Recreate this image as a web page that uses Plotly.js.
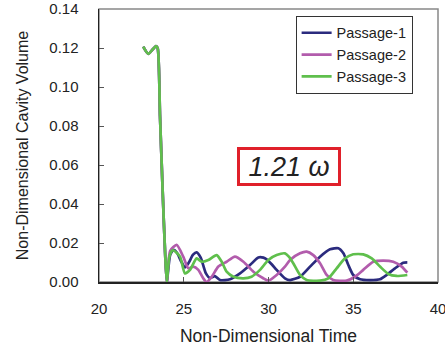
<!DOCTYPE html>
<html><head><meta charset="utf-8">
<script src="https://cdn.plot.ly/plotly-3.0.1.min.js"></script>
<style>html,body{margin:0;padding:0;background:#fff}#c{width:445px;height:349px}</style>
</head><body><div id="c"></div>
<script>
const p1T = [22.61,22.91,23.36,23.46,23.6,23.75,23.9,24.0,24.2,24.4,24.6,24.85,25.07,25.3,25.55,25.76,26.0,26.31,26.55,26.84,27.14,27.73,28.32,28.91,29.40,29.7,29.89,30.2,30.48,30.97,31.27,31.86,32.45,33.04,33.63,34.12,34.42,34.71,35.0,35.4,35.99,36.58,36.97,37.46,37.95,38.19];
const p1V = [0.1207,0.117,0.121,0.120,0.085,0.048,0.015,0.0,0.014,0.0165,0.015,0.0105,0.0075,0.010,0.014,0.0152,0.0125,0.0044,0.002,0.003,0.001,0.0014,0.0044,0.0087,0.0126,0.0125,0.0116,0.009,0.0062,0.0019,0.001,0.0027,0.0079,0.013,0.0168,0.0173,0.0147,0.0087,0.0036,0.0014,0.001,0.0014,0.0036,0.007,0.0099,0.0101];
const p2T = [22.61,22.91,23.36,23.46,23.6,23.75,23.9,24.0,24.2,24.58,24.97,25.27,25.56,25.86,26.15,26.35,26.65,27.04,27.53,28.02,28.52,29.11,29.69,29.99,30.48,30.97,31.27,31.86,32.25,32.64,33.04,33.43,33.82,34.61,35.10,35.59,36.18,36.77,37.36,37.86,38.19];
const p2V = [0.1207,0.117,0.121,0.120,0.085,0.048,0.015,0.0,0.016,0.019,0.013,0.007,0.0079,0.0062,0.0019,0.0,0.0027,0.0079,0.0104,0.013,0.0104,0.0053,0.0019,0.0007,0.0036,0.0079,0.0113,0.0147,0.0156,0.0138,0.0096,0.0036,0.001,0.0007,0.0027,0.0062,0.0104,0.011,0.0104,0.0079,0.0048];
const p3T = [22.61,22.91,23.36,23.46,23.6,23.75,23.9,24.0,24.15,24.35,24.78,25.07,25.37,25.76,26.06,26.45,26.94,27.24,27.53,27.93,28.52,29.0,29.50,29.99,30.48,30.97,31.2,31.46,31.86,32.25,33.04,33.53,34.02,34.51,35.0,35.59,36.09,36.58,37.07,37.56,38.19];
const p3V = [0.1207,0.117,0.121,0.120,0.085,0.048,0.015,0.0,0.013,0.0164,0.013,0.0044,0.0062,0.0121,0.0104,0.0113,0.0138,0.0104,0.0053,0.0027,0.0019,0.0027,0.0062,0.0113,0.0138,0.0147,0.013,0.0096,0.0036,0.001,0.0007,0.0019,0.007,0.0121,0.0142,0.0142,0.0121,0.0079,0.0041,0.0031,0.0036];
const seriesNames = ["Passage-1","Passage-2","Passage-3"];
const xTicks = [20,25,30,35,40];
const yTicks = [0,0.02,0.04,0.06,0.08,0.10,0.12,0.14];
const yTickText = ["0.00","0.02","0.04","0.06","0.08","0.10","0.12","0.14"];
const labelText = "1.21 ω";

const font = "Liberation Sans, Arial, sans-serif";
const colors = ["#2b2b7e","#b25cac","#5fbf4c"];
const data = [[p1T,p1V],[p2T,p2V],[p3T,p3V]].map((d,i)=>({
  x:d[0], y:d[1], type:"scatter", mode:"lines", name:seriesNames[i],
  line:{color:colors[i], width:2.7, shape:"spline", smoothing:0.6}
}));
const layout = {
  width:445, height:349,
  margin:{l:99, r:7, t:9, b:67},
  paper_bgcolor:"#fff", plot_bgcolor:"#fff",
  font:{family:font, size:15, color:"#222"},
  showlegend:true,
  legend:{x:0.58, y:0.975, xanchor:"left", yanchor:"top", bordercolor:"#333", borderwidth:1,
    bgcolor:"#fff", font:{size:14.5, family:font, color:"#222"}, tracegroupgap:0, itemwidth:30},
  xaxis:{range:[20,40], tickvals:xTicks, ticktext:xTicks.map(String), ticks:"inside", ticklen:5,
    tickcolor:"#555", showgrid:false, zeroline:false, showline:true, linecolor:"#222", linewidth:1.5,
    ticklabeloverflow:"allow", ticklabelstandoff:12,
    tickfont:{size:15}, title:{text:"Non-Dimensional Time", font:{size:17.5}, standoff:14}},
  yaxis:{range:[0,0.14], tickvals:yTicks, ticktext:yTickText, ticks:"inside", ticklen:5,
    tickcolor:"#555", showgrid:false, zeroline:false, showline:true, linecolor:"#222", linewidth:1.5,
    ticklabelstandoff:16,
    tickfont:{size:15}, title:{text:"Non-Dimensional Cavity Volume", font:{size:16}, standoff:16}},
  shapes:[{type:"rect", xref:"paper", yref:"paper", x0:0, x1:1, y0:0, y1:1,
    line:{color:"#888", width:1.5}, layer:"below"}],
  annotations:[{x:31.2, y:0.059, xref:"x", yref:"y", text:labelText, showarrow:false,
    font:{family:font, size:27, color:"#222", style:"italic"},
    width:94, height:29, borderpad:2,
    bordercolor:"#e0202a", borderwidth:3, bgcolor:"#fff"}]
};
Plotly.newPlot("c", data, layout, {staticPlot:true});
</script></body></html>
